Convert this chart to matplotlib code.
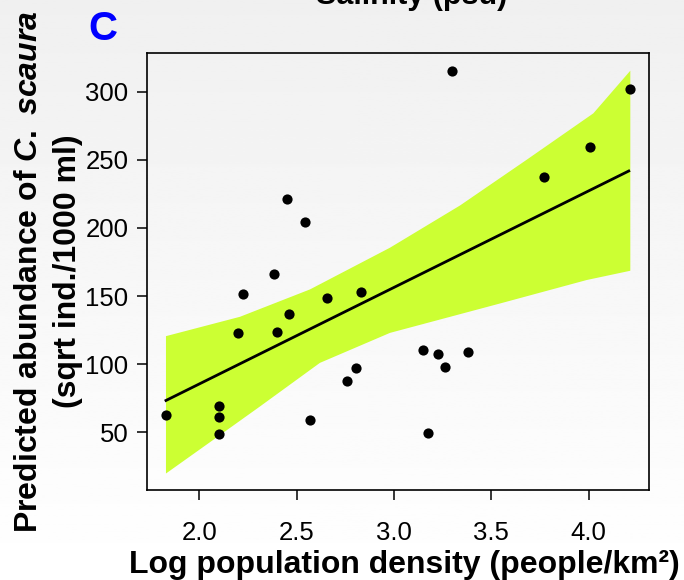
import numpy as np
import matplotlib
matplotlib.use("Agg")
import matplotlib.pyplot as plt

plt.rcParams["font.family"] = "Liberation Sans"
plt.rcParams["mathtext.fontset"] = "custom"
plt.rcParams["mathtext.it"] = "Liberation Sans:italic:bold"
plt.rcParams["mathtext.rm"] = "Liberation Sans:bold"

# points
pop_density = [1.829, 2.099, 2.102, 2.102, 2.199, 2.224, 2.384, 2.397, 2.451,
               2.461, 2.542, 2.568, 2.657, 2.758, 2.804, 2.828, 3.149, 3.172,
               3.224, 3.263, 3.299, 3.381, 3.772, 4.005, 4.214]
abundance = [62.9, 48.7, 61.2, 69.5, 122.6, 151.2, 165.9, 123.3, 221.2,
             136.8, 204.1, 58.9, 148.5, 87.4, 97.4, 152.7, 110.1, 49.3,
             107.3, 98.1, 315.2, 108.9, 237.1, 259.4, 302.2]

# fitted line and confidence band edges
fit_x = [1.828, 4.206]
fit_y = [73.4, 241.8]
upper_x = [1.828, 2.208, 2.568, 2.979, 3.339, 3.681, 4.024, 4.214]
upper_y = [120.6, 134.8, 154.9, 185.5, 216.5, 250.0, 284.1, 315.4]
lower_x = [1.828, 2.071, 2.311, 2.619, 2.979, 3.545, 3.990, 4.214]
lower_y = [19.8, 44.5, 69.0, 101.0, 123.0, 144.6, 161.8, 168.6]

x_ticks = [2.0, 2.5, 3.0, 3.5, 4.0]
y_ticks = [50, 100, 150, 200, 250, 300]

W, H = 684, 580
fig = plt.figure(figsize=(W / 100, H / 100), dpi=100)

# slide-like grey gradient background
bg = fig.add_axes([0, 0, 1, 1], zorder=-10)
bg.imshow(np.linspace(0.94, 1.0, 256)[:, None], cmap="gray", vmin=0, vmax=1,
          aspect="auto", extent=[0, 1, 0, 1])
bg.axis("off")

ax = fig.add_axes([146.7 / W, 90 / H, (649 - 146.7) / W, (490 - 53) / H])
ax.set_facecolor("none")

ax.fill(upper_x + lower_x[::-1], upper_y + lower_y[::-1],
        color="#ccff33", lw=0, zorder=1)
ax.plot(fit_x, fit_y, color="black", lw=2, zorder=2)
ax.scatter(pop_density, abundance, s=54, color="black", lw=0, zorder=3)

ax.set_xlim(1.729, 4.31)
ax.set_ylim(7.7, 328.4)
ax.set_xticks(x_ticks)
ax.set_xticklabels([f"{t:.1f}" for t in x_ticks])
ax.set_yticks(y_ticks)
ax.tick_params(axis="both", direction="out", length=7.2, width=1.1,
               labelsize=18.5, color="black")
ax.tick_params(axis="x", pad=15)
ax.tick_params(axis="y", pad=6)
for s in ax.spines.values():
    s.set_linewidth(1.2)

ax_mid = 1 - 271.5 / H
fig.text(404 / W, 1 - 573 / H, "Log population density (people/km²)",
         ha="center", va="baseline", fontsize=23, fontweight="bold")
fig.text(29 / W, ax_mid, r"Predicted abundance of $C.$ $scaura$",
         rotation=90, ha="center", va="center", fontsize=23, fontweight="bold")
fig.text(68 / W, ax_mid, "(sqrt ind./1000 ml)",
         rotation=90, ha="center", va="center", fontsize=23, fontweight="bold")

fig.text(412 / W, 1 - 4 / H, "Salinity (psu)", ha="center", va="baseline",
         fontsize=22, fontweight="bold")
fig.text(88 / W, 1 - 40 / H, "C", ha="left", va="baseline",
         fontsize=29, fontweight="bold", color="#0000ff")

fig.savefig("out.png", dpi=100)
